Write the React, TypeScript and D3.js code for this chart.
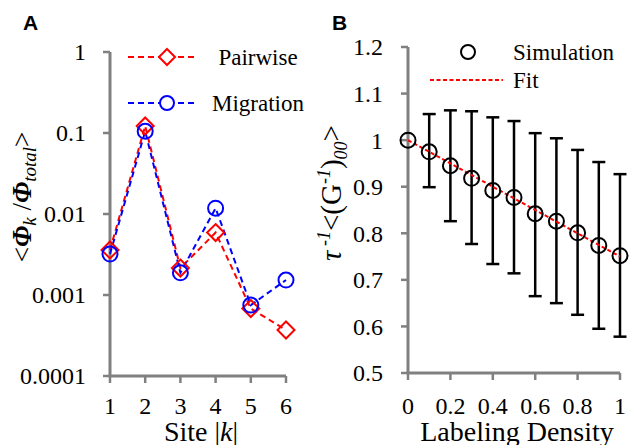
import React from 'react';
import * as d3 from 'd3';

// panel A: relative occupancy per site (log scale)
const sites = [1, 2, 3, 4, 5, 6];
const pairwise = [0.0036, 0.122, 0.00215, 0.0059, 0.00068, 0.00037];
const migration = [0.0032, 0.105, 0.00188, 0.0118, 0.00075, 0.00153];
const aYTicks = [1, 0.1, 0.01, 0.001, 0.0001];
const aYTickLabels = ['1', '0.1', '0.01', '0.001', '0.0001'];

// panel B: simulation vs fit
const density = [0, 0.1, 0.2, 0.3, 0.4, 0.5, 0.6, 0.7, 0.8, 0.9, 1];
const simulation = [1.0, 0.975, 0.945, 0.918, 0.892, 0.877, 0.842, 0.826, 0.801, 0.774, 0.752];
const errUpper = [1.0, 1.056, 1.064, 1.062, 1.049, 1.041, 1.015, 1.004, 0.979, 0.953, 0.927];
const errLower = [1.0, 0.899, 0.826, 0.777, 0.734, 0.714, 0.665, 0.65, 0.625, 0.595, 0.578];
const fitX = [0, 1];
const fitY = [1.0, 0.75];
const bXTicks = [0, 0.2, 0.4, 0.6, 0.8, 1];
const bXTickLabels = ['0', '0.2', '0.4', '0.6', '0.8', '1'];
const bYTicks = [0.5, 0.6, 0.7, 0.8, 0.9, 1, 1.1, 1.2];
const bYTickLabels = ['0.5', '0.6', '0.7', '0.8', '0.9', '1', '1.1', '1.2'];

const serif = '"Liberation Serif", "DejaVu Serif", serif';
const sans = '"Liberation Sans", Arial, sans-serif';
const axisColor = '#808080';

const App = () => {
    const W = 632;
    const H = 445;

    // panel A scales
    const ax = d3.scaleLinear().domain([1, 6]).range([110, 286]);
    const ay = d3.scaleLog().domain([0.0001, 1]).range([376, 52]);
    const aLine = d3.line<[number, number]>()
        .x(d => ax(d[0]))
        .y(d => ay(d[1]));

    // panel B scales
    const bx = d3.scaleLinear().domain([0, 1]).range([408, 620]);
    const by = d3.scaleLinear().domain([0.5, 1.2]).range([373, 47]);
    const bLine = d3.line<[number, number]>()
        .x(d => bx(d[0]))
        .y(d => by(d[1]));

    const diamond = (cx: number, cy: number, r: number) =>
        `M${cx},${cy - r}L${cx + r},${cy}L${cx},${cy + r}L${cx - r},${cy}Z`;

    const pairPts = sites.map((s, i) => [s, pairwise[i]] as [number, number]);
    const migPts = sites.map((s, i) => [s, migration[i]] as [number, number]);
    const fitPts = fitX.map((x, i) => [x, fitY[i]] as [number, number]);

    return (
        <svg width={W} height={H} style={{ position: 'absolute', left: 0, top: 0, background: '#fff' }}>
            {/* ---------- Panel A ---------- */}
            <text x={23} y={30} fontFamily={sans} fontWeight="bold" fontSize={21}>A</text>

            {/* axes */}
            <line x1={ax(1)} x2={ax(1)} y1={ay(1)} y2={ay(0.0001)} stroke={axisColor} strokeWidth={3} />
            <line x1={ax(1) - 1.5} x2={ax(6)} y1={ay(0.0001)} y2={ay(0.0001)} stroke={axisColor} strokeWidth={3} />
            {aYTicks.map((t, i) => (
                <g key={'ay' + i}>
                    <line x1={ax(1) - 7} x2={ax(1)} y1={ay(t)} y2={ay(t)} stroke={axisColor} strokeWidth={2.5} />
                    <text x={86} y={ay(t)} dy="0.35em" textAnchor="end" fontFamily={serif} fontSize={24}>{aYTickLabels[i]}</text>
                </g>
            ))}
            {sites.map(s => (
                <g key={'ax' + s}>
                    <line x1={ax(s)} x2={ax(s)} y1={ay(0.0001)} y2={ay(0.0001) + 7} stroke={axisColor} strokeWidth={2.5} />
                    <text x={ax(s)} y={414} textAnchor="middle" fontFamily={serif} fontSize={24}>{s}</text>
                </g>
            ))}
            <text x={201} y={441} textAnchor="middle" fontFamily={serif} fontSize={28}>
                Site |<tspan fontStyle="italic">k</tspan>|
            </text>
            <text transform="translate(31,197) rotate(-90)" textAnchor="middle" fontFamily={serif} fontSize={27}>
                {'<'}<tspan fontStyle="italic" fontWeight="bold">Φ</tspan>
                <tspan fontStyle="italic" fontSize={19} dy={5}>k</tspan>
                <tspan dy={-5}> /</tspan>
                <tspan fontStyle="italic" fontWeight="bold">Φ</tspan>
                <tspan fontStyle="italic" fontSize={19} dy={5}>total</tspan>
                <tspan dy={-5}>{'>'}</tspan>
            </text>

            {/* series */}
            <path d={aLine(pairPts) || ''} fill="none" stroke="#ff0000" strokeWidth={2} strokeDasharray="6,4" />
            <path d={aLine(migPts) || ''} fill="none" stroke="#0000ff" strokeWidth={2} strokeDasharray="6,4" />
            {pairPts.map((p, i) => (
                <path key={'pd' + i} d={diamond(ax(p[0]), ay(p[1]), 8.5)} fill="none" stroke="#ff0000" strokeWidth={2} />
            ))}
            {migPts.map((p, i) => (
                <circle key={'mc' + i} cx={ax(p[0])} cy={ay(p[1])} r={7.5} fill="none" stroke="#0000ff" strokeWidth={2} />
            ))}

            {/* legend A */}
            <line x1={128} x2={196} y1={57} y2={57} stroke="#ff0000" strokeWidth={2} strokeDasharray="6,4" />
            <path d={diamond(167, 57, 8)} fill="#fff" stroke="#ff0000" strokeWidth={2} />
            <text x={258} y={65} textAnchor="middle" fontFamily={serif} fontSize={23}>Pairwise</text>
            <line x1={128} x2={196} y1={103} y2={103} stroke="#0000ff" strokeWidth={2} strokeDasharray="6,4" />
            <circle cx={167} cy={103} r={7} fill="#fff" stroke="#0000ff" strokeWidth={2} />
            <text x={258} y={111} textAnchor="middle" fontFamily={serif} fontSize={23}>Migration</text>

            {/* ---------- Panel B ---------- */}
            <text x={332} y={30} fontFamily={sans} fontWeight="bold" fontSize={21}>B</text>

            <line x1={bx(0)} x2={bx(0)} y1={by(1.2)} y2={by(0.5)} stroke={axisColor} strokeWidth={3} />
            <line x1={bx(0) - 1.5} x2={bx(1)} y1={by(0.5)} y2={by(0.5)} stroke={axisColor} strokeWidth={3} />
            {bYTicks.map((t, i) => (
                <g key={'by' + i}>
                    <line x1={bx(0) - 7} x2={bx(0)} y1={by(t)} y2={by(t)} stroke={axisColor} strokeWidth={2.5} />
                    <text x={383} y={by(t)} dy="0.35em" textAnchor="end" fontFamily={serif} fontSize={24}>{bYTickLabels[i]}</text>
                </g>
            ))}
            {bXTicks.map((t, i) => (
                <g key={'bx' + i}>
                    <line x1={bx(t)} x2={bx(t)} y1={by(0.5)} y2={by(0.5) + 7} stroke={axisColor} strokeWidth={2.5} />
                    <text x={bx(t)} y={414} textAnchor="middle" fontFamily={serif} fontSize={24}>{bXTickLabels[i]}</text>
                </g>
            ))}
            <text x={517} y={441} textAnchor="middle" fontFamily={serif} fontSize={28}>Labeling Density</text>
            <text transform="translate(341,193) rotate(-90)" textAnchor="middle" fontFamily={serif} fontSize={29}>
                <tspan fontStyle="italic">τ</tspan>
                <tspan fontStyle="italic" fontSize={18} dy={-11}> -1</tspan>
                <tspan dy={11}>{'<(G'}</tspan>
                <tspan fontStyle="italic" fontSize={18} dy={-11}>-1</tspan>
                <tspan dy={11}>)</tspan>
                <tspan fontStyle="italic" fontSize={18} dy={6}>00</tspan>
                <tspan dy={-6}>{'>'}</tspan>
            </text>

            {/* error bars */}
            {density.map((x, i) => errUpper[i] === errLower[i] ? null : (
                <g key={'eb' + i} stroke="#000" strokeWidth={2.5}>
                    <line x1={bx(x)} x2={bx(x)} y1={by(errUpper[i])} y2={by(errLower[i])} />
                    <line x1={bx(x) - 6.5} x2={bx(x) + 6.5} y1={by(errUpper[i])} y2={by(errUpper[i])} />
                    <line x1={bx(x) - 6.5} x2={bx(x) + 6.5} y1={by(errLower[i])} y2={by(errLower[i])} />
                </g>
            ))}
            <path d={bLine(fitPts) || ''} fill="none" stroke="#ff0000" strokeWidth={2} strokeDasharray="4,2.5" />
            {density.map((x, i) => (
                <circle key={'sc' + i} cx={bx(x)} cy={by(simulation[i])} r={7.5} fill="none" stroke="#000" strokeWidth={2} />
            ))}

            {/* legend B */}
            <circle cx={468} cy={52} r={7} fill="none" stroke="#000" strokeWidth={2} />
            <text x={513} y={60} fontFamily={serif} fontSize={23}>Simulation</text>
            <line x1={430} x2={503} y1={80} y2={80} stroke="#ff0000" strokeWidth={2} strokeDasharray="4,2.5" />
            <text x={513} y={88} fontFamily={serif} fontSize={23}>Fit</text>
        </svg>
    );
};

export default App;
